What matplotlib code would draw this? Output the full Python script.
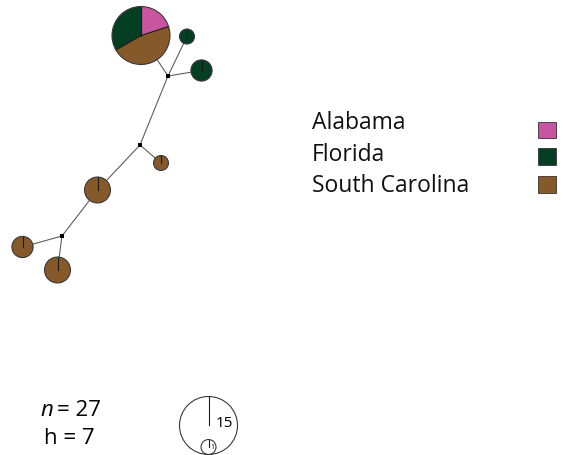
import numpy as np
import matplotlib
matplotlib.use("Agg")
import matplotlib.pyplot as plt
from matplotlib.patches import Wedge, Circle, Rectangle

# Populations and their colours
states = ["Alabama", "Florida", "South Carolina"]
state_colors = ["#C8559F", "#053F23", "#85592A"]
# clockwise slice order inside a pie (indices into states)
slice_order = [0, 2, 1]

# Haplotype counts per population (Alabama, Florida, South Carolina)
hap_names = ["H1", "H2", "H3", "H4", "H5", "H6", "H7"]
hap_counts = [
    [3, 5, 7],
    [0, 1, 0],
    [0, 2, 0],
    [0, 0, 1],
    [0, 0, 3],
    [0, 0, 2],
    [0, 0, 3],
]
# Layout coordinates of each haplotype node (pixel space, y downward)
hap_x = [141, 187, 201.5, 161, 97.5, 22.5, 57.5]
hap_y = [36.5, 37.5, 71.5, 164, 191, 248, 271]

# Inferred (missing) median vectors
median_names = ["m1", "m2", "m3"]
median_x = [168, 140, 62]
median_y = [77, 146, 237]

# Network edges
edges = [
    ("H1", "m1"), ("H2", "m1"), ("H3", "m1"),
    ("m1", "m2"), ("m2", "H4"), ("m2", "H5"),
    ("H5", "m3"), ("m3", "H6"), ("m3", "H7"),
]

n_total = 27
n_haps = 7
scale_sizes = [15, 1]

W, H = 563, 456
fig = plt.figure(figsize=(W / 100, H / 100), dpi=100)
ax = fig.add_axes([0, 0, 1, 1])
ax.set_xlim(0, W)
ax.set_ylim(H, 0)
ax.set_aspect("equal")
ax.axis("off")

K = 29.0 / np.sqrt(15)  # radius per sqrt(count)


def radius(n):
    return K * np.sqrt(n)


pos = {}
for name, x, y in zip(hap_names, hap_x, hap_y):
    pos[name] = (x, y)
for name, x, y in zip(median_names, median_x, median_y):
    pos[name] = (x, y)

edge_col = "#3a3a3a"
for a, b in edges:
    (x0, y0), (x1, y1) = pos[a], pos[b]
    ax.plot([x0, x1], [y0, y1], color="#555555", lw=0.75, zorder=1)

for name, counts in zip(hap_names, hap_counts):
    x, y = pos[name]
    total = sum(counts)
    r = radius(total)
    # angles measured clockwise from 12 o'clock (screen space, y down)
    start = 0.0
    bounds = []
    for i in slice_order:
        c = counts[i]
        if c == 0:
            continue
        bounds.append(start)
        frac = c / total
        end = start + frac * 360
        t1, t2 = -90 + start, -90 + end
        if frac < 1:
            ax.add_patch(Wedge((x, y), r, t1, t2, facecolor=state_colors[i],
                               edgecolor="none", zorder=2))
        else:
            ax.add_patch(Circle((x, y), r, facecolor=state_colors[i],
                                edgecolor="none", zorder=2))
        start = end
    # slice boundaries
    for ang in bounds:
        th = np.deg2rad(-90 + ang)
        ax.plot([x, x + r * np.cos(th)], [y, y + r * np.sin(th)],
                color="#1a1a1a", lw=0.8, zorder=3)
    ax.add_patch(Circle((x, y), r, facecolor="none", edgecolor=edge_col,
                        lw=0.8, zorder=3))

for name in median_names:
    x, y = pos[name]
    ax.add_patch(Rectangle((x - 2, y - 2), 4, 4, facecolor="black",
                           edgecolor="none", zorder=4))

# Legend
font = "Open Sans"
legend_baselines = [129, 161, 192]
swatch_tops = [122.5, 149, 177]
for s, col, yb, yt in zip(states, state_colors, legend_baselines, swatch_tops):
    ax.text(312, yb, s, fontsize=16.5, family=font, va="baseline",
            ha="left", color="#111111")
    ax.add_patch(Rectangle((538, yt), 18, 16.5, facecolor=col,
                           edgecolor="#333333", lw=0.6, zorder=3))

# Sample size and haplotype count
ax.text(40, 416, "n", fontsize=16, family=font, va="baseline",
        ha="left", style="italic")
ax.text(57, 416, "= %d" % n_total, fontsize=16, family=font,
        va="baseline", ha="left")
ax.text(44, 444, "h = %d" % n_haps, fontsize=16, family=font,
        va="baseline", ha="left")

# Size scale: nested circles sharing the bottom point
bx, bottom = 208.5, 455.5
for sz, fs in zip(scale_sizes, [11, 5]):
    r = radius(sz)
    cy = bottom - r
    ax.add_patch(Circle((bx, cy), r, facecolor="none", edgecolor=edge_col,
                        lw=0.8, zorder=3))
    ax.plot([bx, bx], [cy, cy - r], color="#1a1a1a", lw=0.8, zorder=3)
    ax.text(bx + r * 0.25, cy + 0.5, str(sz), fontsize=fs, family=font,
            va="baseline", ha="left")

fig.savefig("out.png", dpi=100)
